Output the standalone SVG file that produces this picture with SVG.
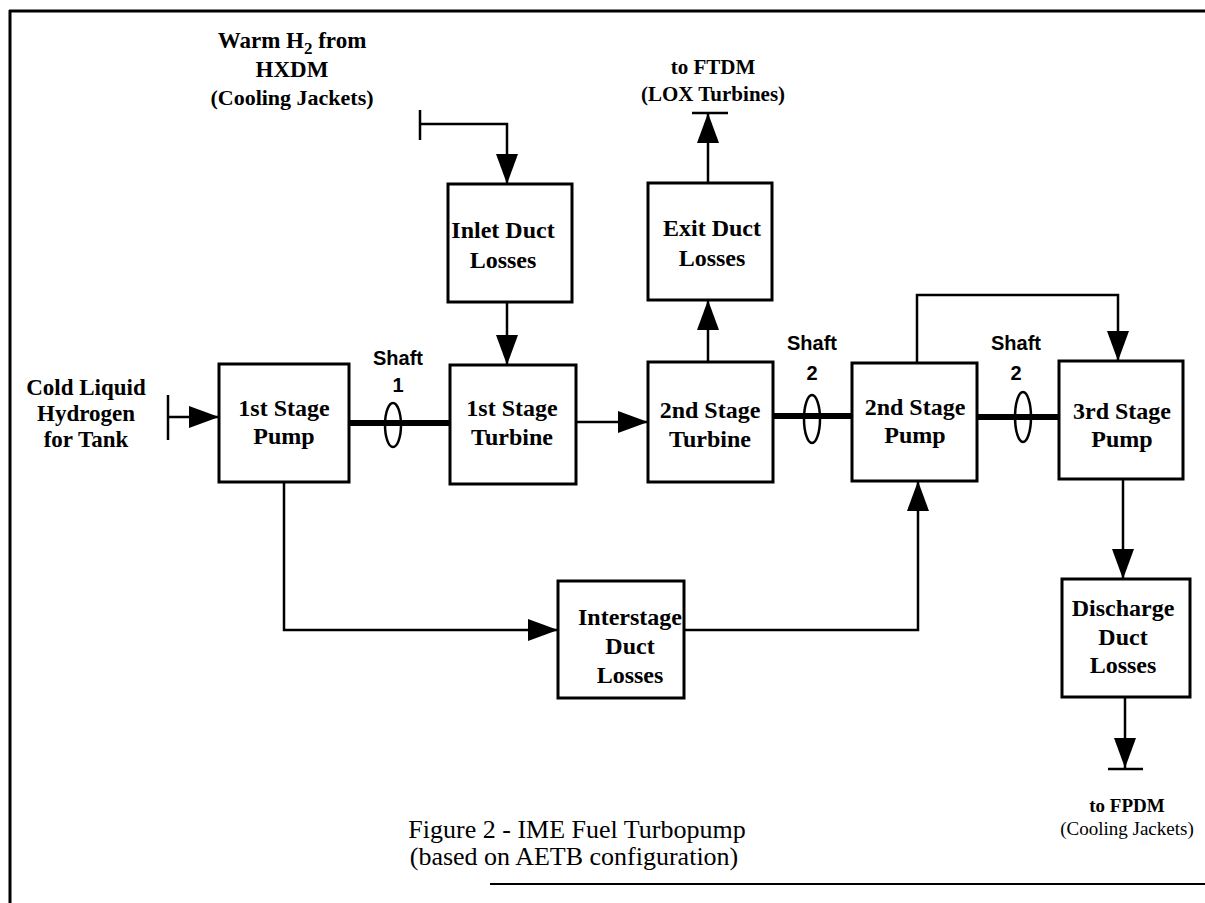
<svg xmlns="http://www.w3.org/2000/svg" width="1205" height="903" viewBox="0 0 1205 903">
<defs>
<style>
.box{fill:#fff;stroke:#000;stroke-width:3}
.ln{fill:none;stroke:#000;stroke-width:2.5}
.shaft{fill:none;stroke:#000;stroke-width:6}
.ring{fill:none;stroke:#000;stroke-width:2.5}
.t{font-family:"Liberation Serif",serif;font-weight:bold;font-size:24px;text-anchor:middle;fill:#000}
.s{font-family:"Liberation Serif",serif;font-weight:bold;font-size:21px;text-anchor:middle;fill:#000}
.n{font-weight:normal}
.sh{font-family:"Liberation Sans",sans-serif;font-weight:bold;font-size:20px;text-anchor:middle;fill:#000}
.title{font-family:"Liberation Serif",serif;font-size:26px;text-anchor:middle;fill:#000}
</style>
<marker id="ah" markerWidth="30" markerHeight="22" refX="30" refY="11" orient="auto" markerUnits="userSpaceOnUse">
<path d="M0,0 L30,11 L0,22 Z" fill="#000"/>
</marker>
</defs>
<rect width="1205" height="903" fill="#fff"/>
<g id="frame" fill="none" stroke="#000">
<line x1="9" y1="11" x2="1205" y2="11" stroke-width="3"/>
<line x1="10" y1="10" x2="10" y2="903" stroke-width="3"/>
<line x1="490" y1="884" x2="1205" y2="884" stroke-width="2"/>
</g>
<g id="connectors">
<line class="ln" x1="168" y1="395" x2="168" y2="440"/>
<line class="ln" x1="168" y1="417" x2="219" y2="417" marker-end="url(#ah)"/>
<line class="ln" x1="420" y1="110" x2="420" y2="140"/>
<polyline class="ln" points="420,124 507,124 507,184" marker-end="url(#ah)"/>
<line class="ln" x1="507" y1="302" x2="507" y2="365" marker-end="url(#ah)"/>
<line class="ln" x1="576" y1="422" x2="648" y2="422" marker-end="url(#ah)"/>
<line class="ln" x1="708" y1="362" x2="708" y2="300" marker-end="url(#ah)"/>
<line class="ln" x1="708" y1="183" x2="708" y2="113" marker-end="url(#ah)"/>
<line class="ln" x1="692" y1="113" x2="728" y2="113"/>
<polyline class="ln" points="284,482 284,630 558,630" marker-end="url(#ah)"/>
<polyline class="ln" points="684,630 918,630 918,481" marker-end="url(#ah)"/>
<polyline class="ln" points="917,363 917,295 1118,295 1118,361" marker-end="url(#ah)"/>
<line class="ln" x1="1123" y1="479" x2="1123" y2="579" marker-end="url(#ah)"/>
<line class="ln" x1="1125" y1="697" x2="1125" y2="768" marker-end="url(#ah)"/>
<line class="ln" x1="1108" y1="769" x2="1143" y2="769"/>
<line class="shaft" x1="349" y1="423" x2="450" y2="423"/>
<ellipse class="ring" cx="393" cy="425" rx="8" ry="22"/>
<line class="shaft" x1="773" y1="416" x2="852" y2="416"/>
<ellipse class="ring" cx="812" cy="419" rx="8" ry="24"/>
<line class="shaft" x1="977" y1="417" x2="1059" y2="417"/>
<ellipse class="ring" cx="1023" cy="417" rx="8" ry="25"/>
</g>
<g id="labels">
<text class="s" x="292" y="48" style="font-size:23px">Warm H<tspan style="font-size:17px" dy="6">2</tspan><tspan dy="-6"> from</tspan></text>
<text class="s" x="292" y="77" style="font-size:23px">HXDM</text>
<text class="s" x="292" y="105" style="font-size:22px">(Cooling Jackets)</text>
<text class="s" x="713" y="74">to FTDM</text>
<text class="s" x="713" y="101">(LOX Turbines)</text>
<text class="s" x="86" y="395" style="font-size:23px">Cold Liquid</text>
<text class="s" x="86" y="421" style="font-size:23px">Hydrogen</text>
<text class="s" x="86" y="447" style="font-size:23px">for Tank</text>
<text class="sh" x="398" y="365">Shaft</text>
<text class="sh" x="398" y="392">1</text>
<text class="sh" x="812" y="350">Shaft</text>
<text class="sh" x="812" y="380">2</text>
<text class="sh" x="1016" y="350">Shaft</text>
<text class="sh" x="1016" y="380">2</text>
<text class="s" x="1127" y="812" style="font-size:19px">to FPDM</text>
<text class="s n" x="1127" y="835" style="font-size:19px">(Cooling Jackets)</text>
<text class="title" x="577" y="838">Figure 2 - IME Fuel Turbopump</text>
<text class="title" x="574" y="865">(based on AETB configuration)</text>
</g>
<g id="pump1"><rect class="box" x="219" y="364" width="130" height="118"/><text class="t" x="284" y="416">1st Stage</text><text class="t" x="284" y="444">Pump</text></g>
<g id="turbine1"><rect class="box" x="450" y="365" width="126" height="119"/><text class="t" x="512" y="416">1st Stage</text><text class="t" x="512" y="445">Turbine</text></g>
<g id="turbine2"><rect class="box" x="648" y="362" width="125" height="120"/><text class="t" x="710" y="418">2nd Stage</text><text class="t" x="710" y="447">Turbine</text></g>
<g id="pump2"><rect class="box" x="852" y="363" width="125" height="118"/><text class="t" x="915" y="415">2nd Stage</text><text class="t" x="915" y="443">Pump</text></g>
<g id="pump3"><rect class="box" x="1059" y="361" width="124" height="118"/><text class="t" x="1122" y="419">3rd Stage</text><text class="t" x="1122" y="447">Pump</text></g>
<g id="inletduct"><rect class="box" x="448" y="184" width="124" height="118"/><text class="t" x="503" y="238">Inlet Duct</text><text class="t" x="503" y="268">Losses</text></g>
<g id="exitduct"><rect class="box" x="648" y="183" width="124" height="117"/><text class="t" x="712" y="236">Exit Duct</text><text class="t" x="712" y="266">Losses</text></g>
<g id="interstage"><rect class="box" x="558" y="581" width="126" height="117"/><text class="t" x="630" y="625">Interstage</text><text class="t" x="630" y="654">Duct</text><text class="t" x="630" y="683">Losses</text></g>
<g id="discharge"><rect class="box" x="1062" y="579" width="128" height="118"/><text class="t" x="1123" y="616">Discharge</text><text class="t" x="1123" y="645">Duct</text><text class="t" x="1123" y="673">Losses</text></g>
</svg>
